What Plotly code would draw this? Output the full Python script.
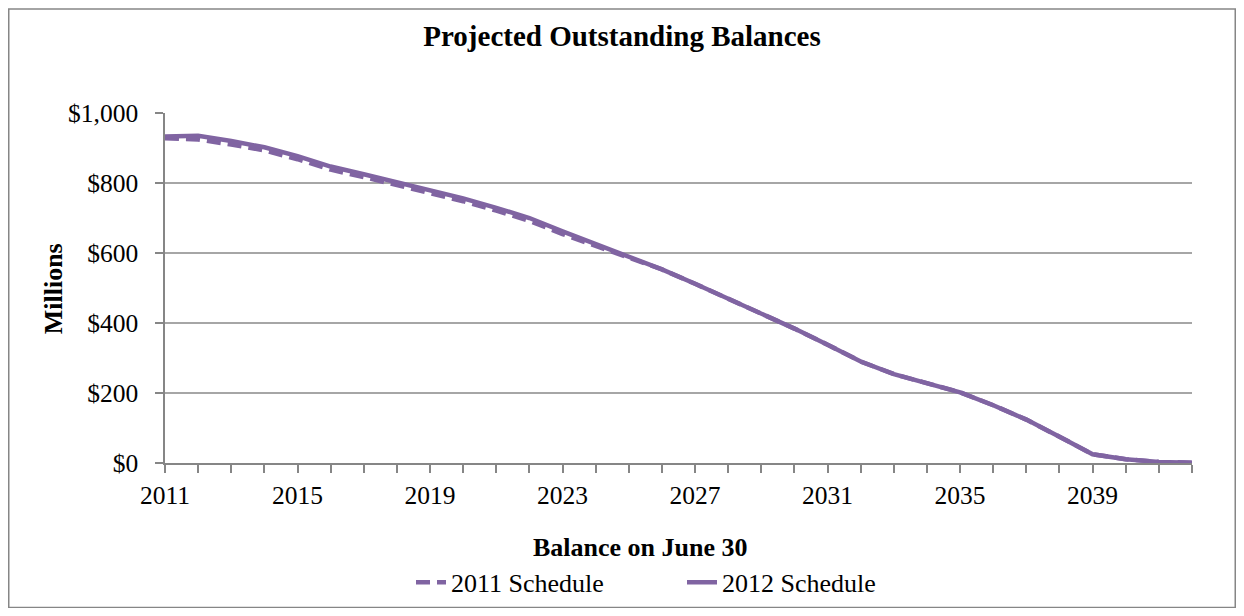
import plotly.graph_objects as go

years = list(range(2011, 2043))
sched_2011 = [928, 924, 910, 893, 868, 838, 817, 795, 772, 748, 721, 692, 654, 620, 589,
              553, 512, 470, 427, 384, 338, 290, 254, 227, 202, 165, 124, 75, 25, 11, 3, 1]
sched_2012 = [933, 935, 920, 902, 877, 847, 825, 803, 780, 756, 729, 700, 662, 626, 591,
              553, 512, 470, 427, 384, 338, 290, 254, 227, 202, 165, 124, 75, 25, 11, 3, 1]
tick_years = [2011, 2015, 2019, 2023, 2027, 2031, 2035, 2039]

PURPLE = "#8064A2"
AXIS = "#868686"
FONT = "Liberation Serif, Times New Roman, serif"

# page is rendered with an 8px body margin -> work in figure coordinates
W, H = 1228, 600
L, T = 157, 104.7
R, B = W - 1184, H - 454.7
pw, ph = W - L - R, H - T - B

def px(x):
    return (x - L) / pw

def py(y):
    return (H - B - y) / ph

fig = go.Figure()
fig.add_trace(go.Scatter(x=years, y=sched_2011, mode="lines", name="2011 Schedule",
                         line=dict(color=PURPLE, width=4.5, dash="14px,7px")))
fig.add_trace(go.Scatter(x=years, y=sched_2012, mode="lines", name="2012 Schedule",
                         line=dict(color=PURPLE, width=4.5)))

fig.add_shape(type="rect", xref="paper", yref="paper",
              x0=px(0.75), x1=px(W - 0.75), y0=py(H - 0.75), y1=py(0.75),
              line=dict(color=AXIS, width=1.5), fillcolor="rgba(0,0,0,0)", layer="below")

fig.add_annotation(text="<b>Balance on June 30</b>", xref="paper", yref="paper",
                   x=px(632), y=py(539), xanchor="center", yanchor="middle",
                   showarrow=False, font=dict(size=26, family=FONT, color="black"))
fig.add_annotation(text="<b>Millions</b>", xref="paper", yref="paper",
                   x=px(45), y=py(281), xanchor="center", yanchor="middle", textangle=-90,
                   showarrow=False, font=dict(size=26, family=FONT, color="black"))

fig.update_layout(
    width=W, height=H,
    margin=dict(l=L, r=R, t=T, b=B, pad=0, autoexpand=False),
    paper_bgcolor="white", plot_bgcolor="white",
    font=dict(family=FONT, size=25.5, color="black"),
    title=dict(text="<b>Projected Outstanding Balances</b>", x=0.5, xanchor="center",
               y=1 - 28 / H, yanchor="middle", font=dict(size=29, family=FONT)),
    showlegend=True,
    legend=dict(orientation="h", x=px(403), xanchor="left", y=py(574), yanchor="middle",
                font=dict(size=26, family=FONT), bgcolor="rgba(0,0,0,0)",
                entrywidth=226, entrywidthmode="pixels", traceorder="normal"),
    xaxis=dict(range=[2011, 2042], tickvals=tick_years, ticktext=[str(t) for t in tick_years],
               ticks="outside", ticklen=8, tickcolor=AXIS, tickwidth=1.5,
               minor=dict(dtick=1, tick0=2011, ticks="outside", ticklen=8, tickcolor=AXIS,
                          tickwidth=1.5, showgrid=False),
               showline=True, linecolor=AXIS, linewidth=1.5, showgrid=False, zeroline=False,
               tickfont=dict(size=25.5), ticklabelstandoff=1),
    yaxis=dict(range=[0, 1000], dtick=200, tickprefix="$", tickformat=",",
               ticks="outside", ticklen=8, tickcolor=AXIS, tickwidth=1.5,
               showline=True, linecolor=AXIS, linewidth=1.5,
               showgrid=True, gridcolor="#A6A6A6", gridwidth=1.5, zeroline=False,
               tickfont=dict(size=25.5), ticklabelstandoff=12),
)

fig.write_html("out.html")
